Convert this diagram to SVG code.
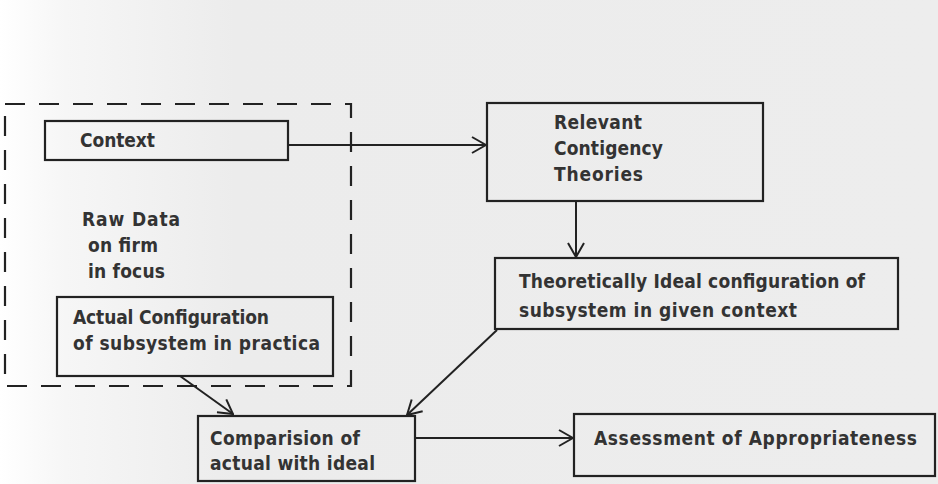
<svg xmlns="http://www.w3.org/2000/svg" width="938" height="484" viewBox="0 0 938 484">
  <defs>
    <linearGradient id="paper" x1="0" y1="0" x2="1" y2="0">
      <stop offset="0" stop-color="#ffffff"/>
      <stop offset="0.07" stop-color="#f6f6f6"/>
      <stop offset="0.25" stop-color="#ececec"/>
      <stop offset="1" stop-color="#ededed"/>
    </linearGradient>
    <marker id="open" viewBox="0 0 16 18" refX="15" refY="9" markerWidth="16" markerHeight="18" markerUnits="userSpaceOnUse" orient="auto">
      <path d="M1,1 L15,9 L1,17" fill="none" stroke="#222" stroke-width="2"/>
    </marker>
    <style>
      .box { fill: none; stroke: #222; stroke-width: 2.2; }
      .frame { fill: none; stroke: #222; stroke-width: 2.2; stroke-dasharray: 20 14; }
      .lbl { font-family: "DejaVu Sans Condensed", "DejaVu Sans", sans-serif; font-weight: bold; font-size: 19px; fill: #333; }
      .conn { fill: none; stroke: #222; stroke-width: 2; marker-end: url(#open); }
    </style>
  </defs>

  <rect width="938" height="484" fill="url(#paper)"/>

  <!-- raw data boundary -->
  <g id="raw-data">
    <rect class="frame" x="5" y="104" width="346" height="282"/>
    <text class="lbl" x="82" y="226" textLength="98" lengthAdjust="spacing">Raw Data</text>
    <text class="lbl" x="88" y="252" textLength="70" lengthAdjust="spacing">on firm</text>
    <text class="lbl" x="88" y="278" textLength="77" lengthAdjust="spacing">in focus</text>
  </g>

  <g id="context">
    <rect class="box" x="45" y="121" width="243" height="39"/>
    <text class="lbl" x="80" y="147" textLength="75" lengthAdjust="spacing">Context</text>
  </g>

  <g id="actual">
    <rect class="box" x="57" y="297" width="276" height="79"/>
    <text class="lbl" x="73" y="324" textLength="196" lengthAdjust="spacing">Actual Configuration</text>
    <text class="lbl" x="73" y="350" textLength="247" lengthAdjust="spacing">of subsystem in practica</text>
  </g>

  <g id="theories">
    <rect class="box" x="487" y="103" width="276" height="98"/>
    <text class="lbl" x="554" y="129" textLength="88" lengthAdjust="spacing">Relevant</text>
    <text class="lbl" x="554" y="155" textLength="109" lengthAdjust="spacing">Contigency</text>
    <text class="lbl" x="554" y="181" textLength="89" lengthAdjust="spacing">Theories</text>
  </g>

  <g id="ideal">
    <rect class="box" x="495" y="258" width="403" height="71"/>
    <text class="lbl" x="519" y="288" textLength="346" lengthAdjust="spacing">Theoretically Ideal configuration of</text>
    <text class="lbl" x="519" y="317" textLength="278" lengthAdjust="spacing">subsystem in given context</text>
  </g>

  <g id="comparison">
    <rect class="box" x="198" y="416" width="217" height="65"/>
    <text class="lbl" x="210" y="445" textLength="150" lengthAdjust="spacing">Comparision of</text>
    <text class="lbl" x="210" y="470" textLength="165" lengthAdjust="spacing">actual with ideal</text>
  </g>

  <g id="assessment">
    <rect class="box" x="574" y="414" width="361" height="62"/>
    <text class="lbl" x="594" y="445" textLength="323" lengthAdjust="spacing">Assessment of Appropriateness</text>
  </g>

  <!-- connectors -->
  <g id="connectors">
    <line class="conn" x1="288" y1="145" x2="486" y2="145"/>
    <line class="conn" x1="576" y1="201" x2="576" y2="257"/>
    <line class="conn" x1="180" y1="376" x2="233" y2="414"/>
    <line class="conn" x1="497" y1="330" x2="407" y2="415"/>
    <line class="conn" x1="415" y1="438" x2="573" y2="438"/>
  </g>
</svg>
